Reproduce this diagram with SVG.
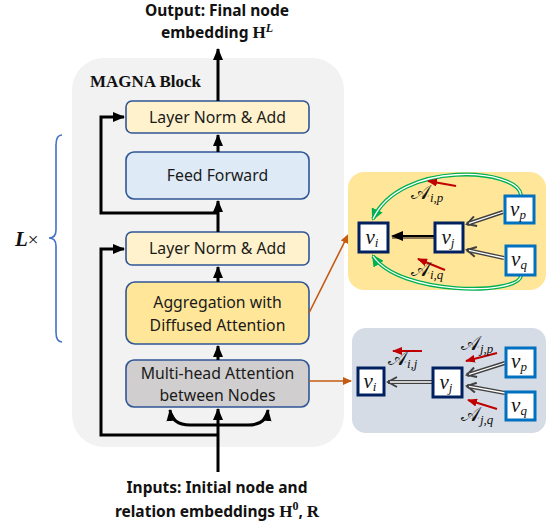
<svg xmlns="http://www.w3.org/2000/svg" width="547" height="524" viewBox="0 0 547 524">
<defs>
<style>
.box{stroke:#2f5597;stroke-width:1.6}
.bt{font-family:"Noto Sans","Open Sans",sans-serif;font-size:15.8px;fill:#1a1a1a;text-anchor:middle}
.bold{font-family:"Noto Sans","Open Sans",sans-serif;font-size:15.5px;font-weight:bold;fill:#111;text-anchor:middle}
.main{fill:none;stroke:#000;stroke-width:3}
.node{fill:#fff;stroke:#002060;stroke-width:3}
.nodel{fill:#fff;stroke:#0070c0;stroke-width:3}
.nv{font-family:"Liberation Serif","DejaVu Serif",serif;font-style:italic;font-size:21px;fill:#111;text-anchor:middle}
.sub{font-size:13px;font-style:italic;font-family:"Liberation Serif","DejaVu Serif",serif}
.al{font-family:"DejaVu Sans","DejaVu Serif",serif;font-size:20px;fill:#111}
.red{fill:none;stroke:#c00000;stroke-width:2}
.org{fill:none;stroke:#c55a11;stroke-width:1.6}
.gout{fill:none;stroke:#00b050;stroke-width:4}
.gin{fill:none;stroke:#fff;stroke-width:1.3}
.dout{fill:none;stroke:#404040;stroke-width:4}
.din{fill:none;stroke:#fff;stroke-width:1.3}
</style>
<marker id="ah" markerUnits="userSpaceOnUse" markerWidth="12" markerHeight="12" viewBox="0 0 12 12" refX="11" refY="6" orient="auto"><path d="M0,1 L12,6 L0,11 Z" fill="#000"/></marker>
<marker id="ahr" markerUnits="userSpaceOnUse" markerWidth="10" markerHeight="8" viewBox="0 0 10 8" refX="9" refY="4" orient="auto"><path d="M0,0 L10,4 L0,8 Z" fill="#c00000"/></marker>
<marker id="aho" markerUnits="userSpaceOnUse" markerWidth="9" markerHeight="8" viewBox="0 0 9 8" refX="8" refY="4" orient="auto"><path d="M0,0 L9,4 L0,8 Z" fill="#c55a11"/></marker>
<marker id="ahg" markerUnits="userSpaceOnUse" markerWidth="12" markerHeight="12" viewBox="0 0 12 12" refX="10" refY="6" orient="auto"><path d="M0,0 L12,6 L0,12 Z" fill="#00b050"/></marker>
<marker id="ahd" markerUnits="userSpaceOnUse" markerWidth="12" markerHeight="12" viewBox="0 0 12 12" refX="10" refY="6" orient="auto"><path d="M1,1 L10,6 L1,11" fill="none" stroke="#404040" stroke-width="2"/></marker>
<marker id="ahk" markerUnits="userSpaceOnUse" markerWidth="12" markerHeight="12" viewBox="0 0 12 12" refX="10" refY="6" orient="auto"><path d="M0,1 L12,6 L0,11 Z" fill="#000"/></marker>
</defs>
<rect width="547" height="524" fill="#fff"/>

<g id="magna-block">
<rect x="72" y="58" width="272" height="389" rx="32" fill="#f2f2f2"/>
<text x="90" y="87" font-family="Liberation Serif,serif" font-weight="bold" font-size="17" fill="#111">MAGNA Block</text>
</g>

<g id="output-label">
<text class="bold" x="217" y="16">Output: Final node</text>
<text class="bold" x="217" y="38">embedding <tspan font-family="Liberation Serif,serif" font-size="17">H</tspan><tspan font-family="Liberation Serif,serif" font-style="italic" font-size="12" dy="-6">L</tspan></text>
</g>

<g id="input-label">
<text class="bold" x="217" y="493">Inputs: Initial node and</text>
<text class="bold" x="217" y="517">relation embeddings <tspan font-family="Liberation Serif,serif" font-size="17">H</tspan><tspan font-family="Liberation Serif,serif" font-size="12" dy="-7">0</tspan><tspan dy="7">, </tspan><tspan font-family="Liberation Serif,serif" font-size="17">R</tspan></text>
</g>

<g id="repeat">
<path d="M62,135 Q56,135 56,145 V230 Q56,238 49,238 Q56,238 56,246 V332 Q56,342 62,342" fill="none" stroke="#4472c4" stroke-width="1.6"/>
<text x="15" y="246" font-family="Liberation Serif,serif" font-weight="bold" font-style="italic" font-size="21" fill="#111">L<tspan font-style="normal" font-weight="normal" font-size="19">×</tspan></text>
</g>

<g id="ln-top">
<rect class="box" x="126" y="101" width="183" height="32" rx="6" fill="#fff2cc"/>
<text class="bt" x="217.5" y="122.5">Layer Norm &amp; Add</text>
</g>
<g id="feed-forward">
<rect class="box" x="126" y="152" width="183" height="47" rx="8" fill="#deebf7"/>
<text class="bt" x="217.5" y="181">Feed Forward</text>
</g>
<g id="ln-bottom">
<rect class="box" x="126" y="232" width="183" height="33" rx="6" fill="#fff2cc"/>
<text class="bt" x="217.5" y="254">Layer Norm &amp; Add</text>
</g>
<g id="aggregation">
<rect class="box" x="126" y="282" width="183" height="62" rx="9" fill="#ffe699"/>
<text class="bt" x="217.5" y="307.5">Aggregation with</text>
<text class="bt" x="217.5" y="330.5">Diffused Attention</text>
</g>
<g id="multihead">
<rect class="box" x="126" y="360" width="183" height="47" rx="8" fill="#d0cece"/>
<text class="bt" x="217.5" y="378.5">Multi-head Attention</text>
<text class="bt" x="217.5" y="401">between Nodes</text>
</g>

<g id="connectors">
<path class="main" d="M218,472 V409" marker-end="url(#ah)"/>
<path class="main" d="M218,435 H101 V249 H124" marker-end="url(#ah)"/>
<path class="main" d="M218,425 H190 Q172,425 170,410" marker-end="url(#ah)"/>
<path class="main" d="M218,425 H248 Q266,425 268,410" marker-end="url(#ah)"/>
<path class="main" d="M218,360 V346" marker-end="url(#ah)"/>
<path class="main" d="M218,282 V267" marker-end="url(#ah)"/>
<path class="main" d="M218,232 V201" marker-end="url(#ah)"/>
<path class="main" d="M218,213 H101 V117 H124" marker-end="url(#ah)"/>
<path class="main" d="M218,152 V135" marker-end="url(#ah)"/>
<path class="main" d="M218,101 V49" marker-end="url(#ah)"/>
<path class="org" d="M309,313 L348,235" marker-end="url(#aho)"/>
<path class="org" d="M309,381 H351" marker-end="url(#aho)"/>
</g>

<g id="diffused-panel">
<rect x="348" y="172" width="198" height="118" rx="16" fill="#ffe699"/>
<path class="gout" d="M521,195 C518,168 400,160 373,219" marker-end="url(#ahg)"/>
<path class="gin" d="M521,195 C518,168 400,160 373,219"/>
<path class="gout" d="M521,276 C518,295 400,296 373,256" marker-end="url(#ahg)"/>
<path class="gin" d="M521,276 C518,295 400,296 373,256"/>
<path d="M434,237 H392" fill="none" stroke="#8c7a55" stroke-width="4"/>
<path d="M434,236 H393" fill="none" stroke="#000" stroke-width="2" marker-end="url(#ahk)"/>
<path class="dout" d="M503,212 L467,224" marker-end="url(#ahd)"/>
<path class="din" d="M503,212 L469,223.3"/>
<path class="dout" d="M504,258 L467,250" marker-end="url(#ahd)"/>
<path class="din" d="M504,258 L469,250.4"/>
<path class="red" d="M456,186 L428,181" marker-end="url(#ahr)"/>
<path class="red" d="M445,270 L418,259" marker-end="url(#ahr)"/>
<text class="al" x="411" y="199">𝒜<tspan class="sub" dy="3">i,p</tspan></text>
<text class="al" x="411" y="276">𝒜<tspan class="sub" dy="3">i,q</tspan></text>
<g id="y-vi"><rect class="node" x="359" y="223" width="29" height="29"/><text class="nv" x="372" y="244">v<tspan class="sub" dy="3">i</tspan></text></g>
<g id="y-vj"><rect class="node" x="435" y="223" width="28" height="29"/><text class="nv" x="448" y="244">v<tspan class="sub" dy="3">j</tspan></text></g>
<g id="y-vp"><rect class="nodel" x="505" y="196" width="29" height="27"/><text class="nv" x="518" y="216">v<tspan class="sub" dy="3">p</tspan></text></g>
<g id="y-vq"><rect class="nodel" x="506" y="246" width="29" height="29"/><text class="nv" x="519" y="266">v<tspan class="sub" dy="3">q</tspan></text></g>
</g>

<g id="attention-panel">
<rect x="352" y="328" width="194" height="105" rx="14" fill="#d6dce5"/>
<path class="dout" d="M432,382 H388" marker-end="url(#ahd)"/>
<path class="din" d="M432,382 H390"/>
<path class="dout" d="M505,363 L467,375" marker-end="url(#ahd)"/>
<path class="din" d="M505,363 L469,374.4"/>
<path class="dout" d="M505,393 L467,386" marker-end="url(#ahd)"/>
<path class="din" d="M505,393 L469,386.4"/>
<path class="red" d="M422,351 H393" marker-end="url(#ahr)"/>
<path class="red" d="M497,353 L466,361" marker-end="url(#ahr)"/>
<path class="red" d="M497,409 L468,400" marker-end="url(#ahr)"/>
<text class="al" x="388" y="365">𝒜<tspan class="sub" dy="3">i,j</tspan></text>
<text class="al" x="461" y="350">𝒜<tspan class="sub" dy="3">j,p</tspan></text>
<text class="al" x="461" y="421">𝒜<tspan class="sub" dy="3">j,q</tspan></text>
<g id="g-vi"><rect class="node" x="358" y="368" width="26" height="27"/><text class="nv" x="370" y="388">v<tspan class="sub" dy="3">i</tspan></text></g>
<g id="g-vj"><rect class="node" x="433" y="368" width="29" height="29"/><text class="nv" x="446" y="389">v<tspan class="sub" dy="3">j</tspan></text></g>
<g id="g-vp"><rect class="nodel" x="506" y="348" width="29" height="29"/><text class="nv" x="519" y="368">v<tspan class="sub" dy="3">p</tspan></text></g>
<g id="g-vq"><rect class="nodel" x="506" y="392" width="29" height="28"/><text class="nv" x="519" y="412">v<tspan class="sub" dy="3">q</tspan></text></g>
</g>
</svg>
